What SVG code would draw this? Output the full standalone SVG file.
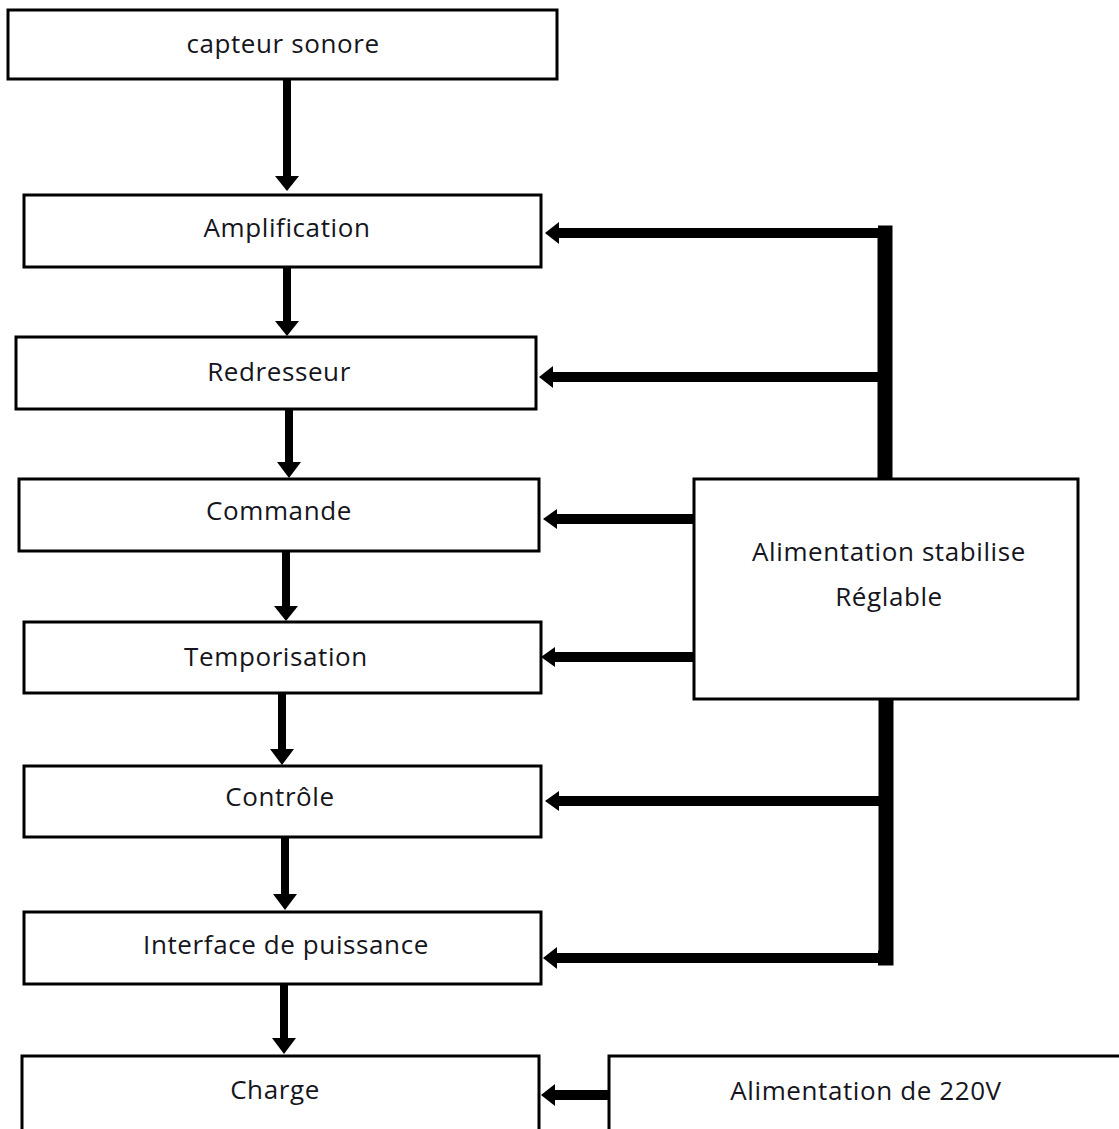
<svg xmlns="http://www.w3.org/2000/svg" width="1119" height="1129" viewBox="0 0 1119 1129">
<style>
.box{fill:#fff;stroke:#000;stroke-width:3}
.t{font-family:"Open Sans","Noto Sans",sans-serif;font-size:26px;font-weight:500;letter-spacing:0.6px;fill:#151520;text-anchor:middle}
.v{stroke:#000;stroke-width:8;fill:none}
.h{stroke:#000;stroke-width:10;fill:none}
.bus{stroke:#000;stroke-width:15;fill:none}
</style>
<rect width="1119" height="1129" fill="#fff"/>
<g id="connectors">
<line class="v" x1="287" y1="79" x2="287" y2="176"/>
<path d="M275,176 L299,176 L287,191 Z"/>
<line class="v" x1="287" y1="267" x2="287" y2="322"/>
<path d="M275,321 L299,321 L287,336 Z"/>
<line class="v" x1="289" y1="409" x2="289" y2="463"/>
<path d="M277,462 L301,462 L289,478 Z"/>
<line class="v" x1="286" y1="551" x2="286" y2="607"/>
<path d="M274,606 L298,606 L286,621 Z"/>
<line class="v" x1="282" y1="693" x2="282" y2="750"/>
<path d="M270,749 L294,749 L282,765 Z"/>
<line class="v" x1="285" y1="837" x2="285" y2="895"/>
<path d="M273,894 L297,894 L285,910 Z"/>
<line class="v" x1="284" y1="984" x2="284" y2="1039"/>
<path d="M272,1038 L296,1038 L284,1054 Z"/>
<polyline class="bus" points="885,479 885,233 878,233"/>
<line class="h" x1="880" y1="233" x2="558" y2="233"/>
<path d="M559,222 L559,244 L545,233 Z"/>
<line class="h" x1="880" y1="377" x2="552" y2="377"/>
<path d="M553,366 L553,388 L539,377 Z"/>
<line class="h" x1="694" y1="519" x2="556" y2="519"/>
<path d="M557,509 L557,529 L543,519 Z"/>
<line class="h" x1="694" y1="657" x2="554" y2="657"/>
<path d="M555,647 L555,667 L541,657 Z"/>
<polyline class="bus" points="886,699 886,958 878,958"/>
<line class="h" x1="880" y1="801" x2="558" y2="801"/>
<path d="M559,791 L559,811 L545,801 Z"/>
<line class="h" x1="880" y1="958" x2="556" y2="958"/>
<path d="M557,947 L557,969 L543,958 Z"/>
<line class="h" x1="609" y1="1095" x2="554" y2="1095"/>
<path d="M555,1084 L555,1106 L541,1095 Z"/>
</g>
<g id="capteur"><rect class="box" x="8" y="10" width="549" height="69"/><text class="t" x="283" y="53">capteur sonore</text></g>
<g id="amplification"><rect class="box" x="24" y="195" width="517" height="72"/><text class="t" x="287" y="237">Amplification</text></g>
<g id="redresseur"><rect class="box" x="16" y="337" width="520" height="72"/><text class="t" x="279" y="381">Redresseur</text></g>
<g id="commande"><rect class="box" x="19" y="479" width="520" height="72"/><text class="t" x="279" y="520">Commande</text></g>
<g id="temporisation"><rect class="box" x="24" y="622" width="517" height="71"/><text class="t" x="276" y="666">Temporisation</text></g>
<g id="controle"><rect class="box" x="24" y="766" width="517" height="71"/><text class="t" x="280" y="806">Contrôle</text></g>
<g id="interface"><rect class="box" x="24" y="912" width="517" height="72"/><text class="t" x="286" y="954">Interface de puissance</text></g>
<g id="charge"><rect class="box" x="22" y="1056" width="517" height="80"/><text class="t" x="275" y="1099">Charge</text></g>
<g id="alim220"><rect class="box" x="609" y="1056" width="520" height="80"/><text class="t" x="866" y="1100">Alimentation de 220V</text></g>
<g id="alimstab"><rect class="box" x="694" y="479" width="384" height="220"/><text class="t" x="889" y="561">Alimentation stabilise</text><text class="t" x="889" y="606">Réglable</text></g>
</svg>
